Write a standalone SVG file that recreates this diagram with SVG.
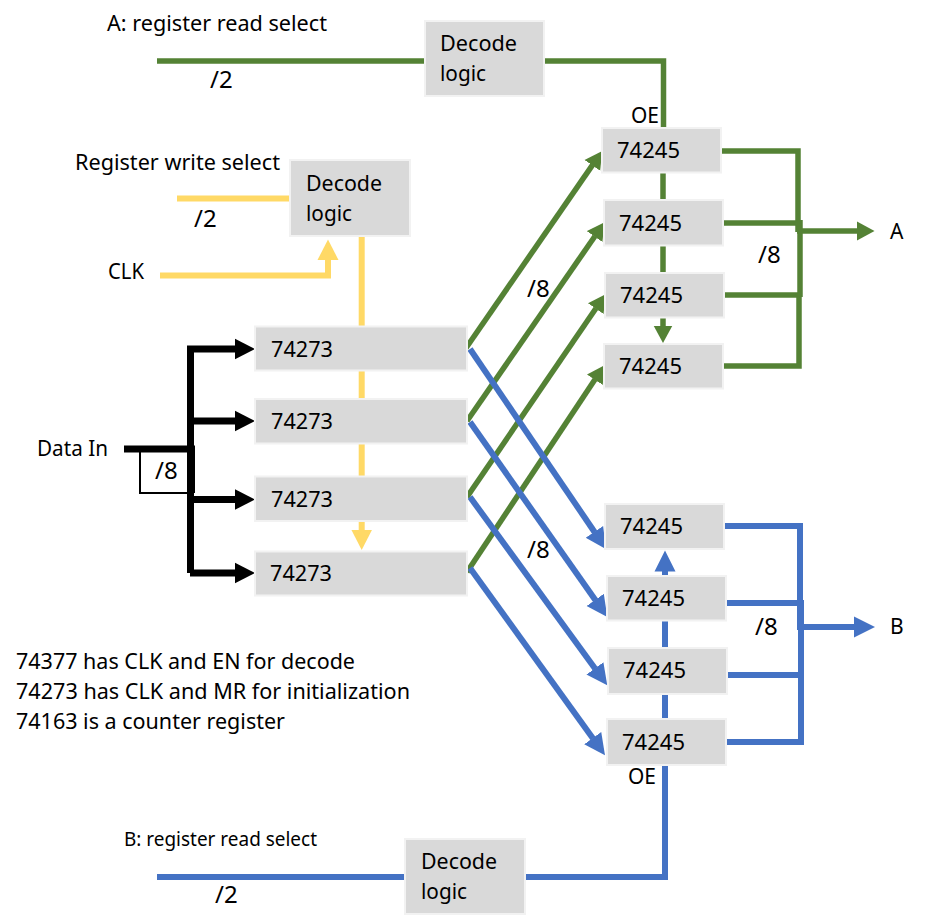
<svg xmlns="http://www.w3.org/2000/svg" width="928" height="924" viewBox="0 0 928 924">
<style>
text{font-family:"Noto Sans","Open Sans","Liberation Sans",sans-serif;font-size:21px;fill:#000}
.w{font-size:24px}
.box{fill:#d9d9d9;stroke:#f2f2f2;stroke-width:2}
.c{fill:none;stroke-linejoin:miter}
.g{stroke:#548235;stroke-width:5.5}
.b{stroke:#4472c4;stroke-width:6}
.y{stroke:#ffd966;stroke-width:6}
.k{stroke:#000;stroke-width:7}
.ga{marker-end:url(#mg)}
.ba{marker-end:url(#mb)}
.ya{marker-end:url(#my)}
.ka{marker-end:url(#mk)}
</style>
<defs>
<marker id="mg" markerUnits="userSpaceOnUse" markerWidth="20" markerHeight="20" viewBox="0 -10 20 20" refX="0.5" refY="0" orient="auto"><path d="M0-9.500L17.500 0L0 9.500Z" fill="#548235"/></marker>
<marker id="mb" markerUnits="userSpaceOnUse" markerWidth="22" markerHeight="24" viewBox="0 -12 22 24" refX="0.5" refY="0" orient="auto"><path d="M0-10.500L21 0L0 10.500Z" fill="#4472c4"/></marker>
<marker id="my" markerUnits="userSpaceOnUse" markerWidth="22" markerHeight="24" viewBox="0 -12 22 24" refX="0.5" refY="0" orient="auto"><path d="M0-10.500L20.500 0L0 10.500Z" fill="#ffd966"/></marker>
<marker id="mk" markerUnits="userSpaceOnUse" markerWidth="22" markerHeight="24" viewBox="0 -12 22 24" refX="0.5" refY="0" orient="auto"><path d="M0-10.500L20.500 0L0 10.500Z" fill="#000"/></marker>
</defs>
<g id="connectors">
<g id="green-wires" class="c g">
<path d="M157 61H663.500V128"/>
<path class="ga" d="M663 172V326"/>
<path class="ga" d="M466 348L592.600 164.900"/>
<path class="ga" d="M467 421L594.900 236.200"/>
<path class="ga" d="M467 497L596 308.200"/>
<path class="ga" d="M467 572L595.100 379.300"/>
<path d="M721 151H798V232"/>
<path d="M723 223H801"/>
<path d="M724 295H801"/>
<path d="M800 220V297"/>
<path d="M723 366H799V297"/>
<path class="ga" d="M797 231H857.500"/>
</g>
<g id="blue-wires" class="c b">
<path class="ba" d="M470 349L594.700 532.200"/>
<path class="ba" d="M470 422L595.500 600.300"/>
<path class="ba" d="M470 497L595.200 668.800"/>
<path class="ba" d="M470 568L593 738.500"/>
<path d="M157 877H665V765"/>
<path class="ba" d="M665 719V571"/>
<path d="M724 526H800V630"/>
<path d="M726 603H803"/>
<path d="M727 675H803"/>
<path d="M801 600V678"/>
<path d="M726 742H801V675"/>
<path class="ba" d="M797 627H854.500"/>
</g>
<g id="yellow-wires" class="c y">
<path d="M177 198.500H290"/>
<path class="ya" d="M160 275.500H328V259.500"/>
<path class="ya" d="M361.700 237V530"/>
</g>
<g id="black-wires" class="c k">
<path d="M124 449H195"/>
<path class="ka" d="M190.500 573V349H235"/>
<path class="ka" d="M190 573H235"/>
<path class="ka" d="M190 421H235"/>
<path class="ka" d="M190 499.500H235"/>
<path d="M191.500 449V493"/>
<path d="M140 449V493H190" stroke-width="2"/>
</g>
</g>
<g id="decode-a"><rect class="box" x="425" y="21" width="119" height="75"/><text x="440" y="51" textLength="77" lengthAdjust="spacingAndGlyphs">Decode</text><text x="440" y="81" textLength="46" lengthAdjust="spacingAndGlyphs">logic</text></g>
<g id="decode-write"><rect class="box" x="290" y="160" width="120" height="76"/><text x="306" y="191" textLength="76" lengthAdjust="spacingAndGlyphs">Decode</text><text x="306" y="221" textLength="46" lengthAdjust="spacingAndGlyphs">logic</text></g>
<g id="decode-b"><rect class="box" x="405" y="839" width="120" height="75"/><text x="421" y="869" textLength="76" lengthAdjust="spacingAndGlyphs">Decode</text><text x="421" y="899" textLength="46" lengthAdjust="spacingAndGlyphs">logic</text></g>
<g id="reg-1"><rect class="box" x="255" y="326.500" width="212" height="44"/><text x="271" y="357" textLength="62" lengthAdjust="spacingAndGlyphs">74273</text></g>
<g id="reg-2"><rect class="box" x="255" y="399" width="212" height="44.500"/><text x="271" y="429" textLength="62" lengthAdjust="spacingAndGlyphs">74273</text></g>
<g id="reg-3"><rect class="box" x="255" y="476.500" width="212" height="44.500"/><text x="271" y="507" textLength="62" lengthAdjust="spacingAndGlyphs">74273</text></g>
<g id="reg-4"><rect class="box" x="255" y="551.500" width="212" height="44"/><text x="270" y="581" textLength="62" lengthAdjust="spacingAndGlyphs">74273</text></g>
<g id="a-1"><rect class="box" x="602" y="128" width="119" height="44.500"/><text x="617" y="158" textLength="63" lengthAdjust="spacingAndGlyphs">74245</text></g>
<g id="a-2"><rect class="box" x="604" y="200" width="119" height="45.500"/><text x="619" y="231" textLength="63" lengthAdjust="spacingAndGlyphs">74245</text></g>
<g id="a-3"><rect class="box" x="605" y="273" width="119" height="44.500"/><text x="620" y="303" textLength="63" lengthAdjust="spacingAndGlyphs">74245</text></g>
<g id="a-4"><rect class="box" x="604" y="344" width="119" height="44.500"/><text x="619" y="374" textLength="63" lengthAdjust="spacingAndGlyphs">74245</text></g>
<g id="b-1"><rect class="box" x="605" y="504" width="119" height="45"/><text x="620" y="534" textLength="63" lengthAdjust="spacingAndGlyphs">74245</text></g>
<g id="b-2"><rect class="box" x="607" y="576" width="119" height="44.500"/><text x="622" y="606" textLength="63" lengthAdjust="spacingAndGlyphs">74245</text></g>
<g id="b-3"><rect class="box" x="608" y="648" width="119" height="46"/><text x="623" y="678" textLength="63" lengthAdjust="spacingAndGlyphs">74245</text></g>
<g id="b-4"><rect class="box" x="607" y="719" width="119" height="46"/><text x="622" y="750" textLength="63" lengthAdjust="spacingAndGlyphs">74245</text></g>
<g id="labels">
<text x="107" y="31" textLength="220" lengthAdjust="spacingAndGlyphs" style="font-size:21.500px">A: register read select</text>
<text class="w" x="210" y="88">/2</text>
<text x="75" y="170" textLength="205" lengthAdjust="spacingAndGlyphs">Register write select</text>
<text class="w" x="194" y="227">/2</text>
<text x="108" y="279" textLength="36" lengthAdjust="spacingAndGlyphs">CLK</text>
<text x="37" y="456" textLength="71" lengthAdjust="spacingAndGlyphs">Data In</text>
<text class="w" x="155" y="479">/8</text>
<text class="w" x="527" y="297">/8</text>
<text class="w" x="527" y="558">/8</text>
<text class="w" x="758" y="263">/8</text>
<text class="w" x="755" y="635">/8</text>
<text x="631" y="123" textLength="28" lengthAdjust="spacingAndGlyphs">OE</text>
<text x="628" y="784" textLength="28" lengthAdjust="spacingAndGlyphs">OE</text>
<text x="890" y="239">A</text>
<text x="890" y="634">B</text>
<text x="16" y="669" textLength="339" lengthAdjust="spacingAndGlyphs">74377 has CLK and EN for decode</text>
<text x="16" y="699" textLength="394" lengthAdjust="spacingAndGlyphs">74273 has CLK and MR for initialization</text>
<text x="16" y="729" textLength="269" lengthAdjust="spacingAndGlyphs">74163 is a counter register</text>
<text x="124" y="846" textLength="193" lengthAdjust="spacingAndGlyphs" style="font-size:20px">B: register read select</text>
<text class="w" x="215" y="903">/2</text>
</g>
</svg>
